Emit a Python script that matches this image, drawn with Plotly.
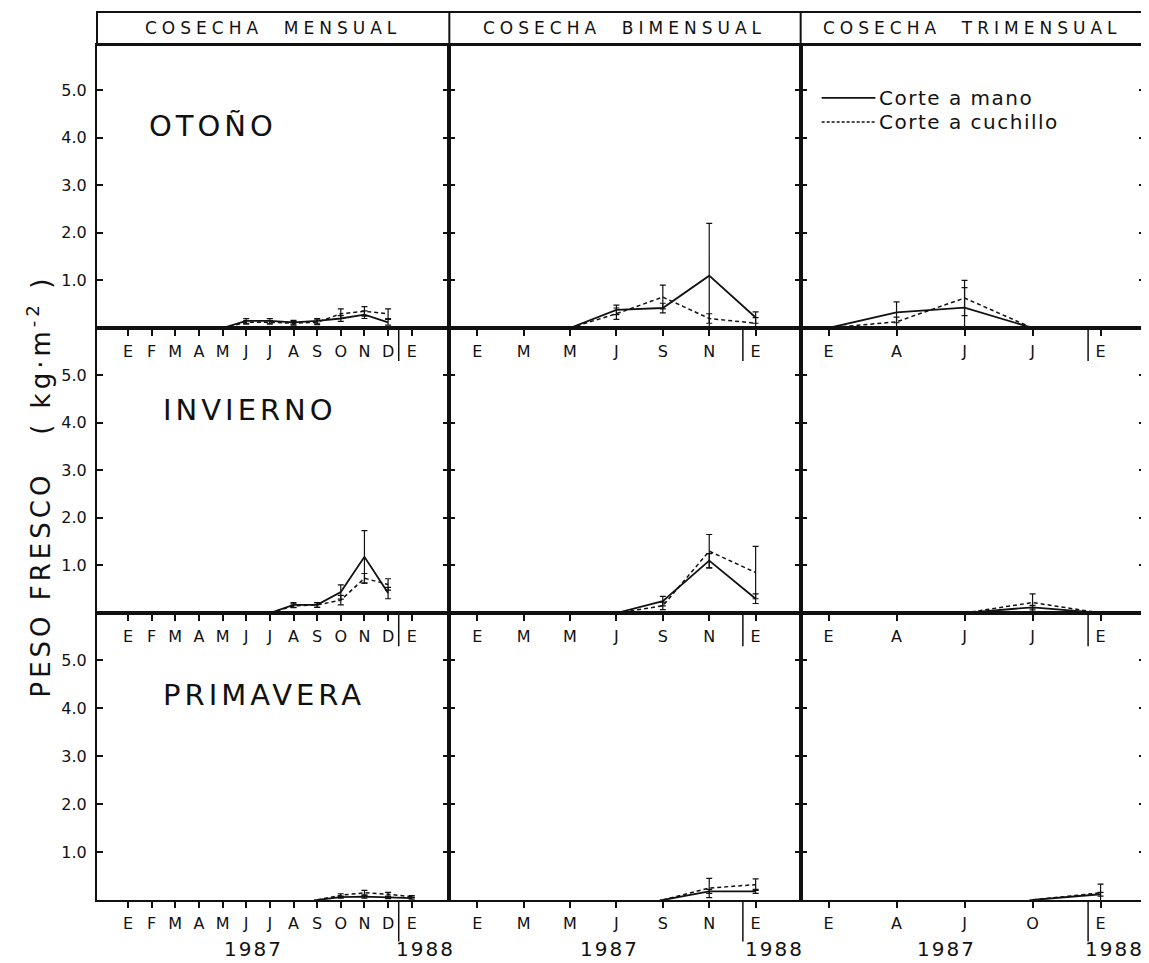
import plotly.graph_objects as go
from plotly.subplots import make_subplots

# ---------------- tick labels / categories ----------------
MENS_TICKS = [0, 1, 2, 3, 4, 5, 6, 7, 8, 9, 10, 11, 12]
MENS_LABELS = ["E", "F", "M", "A", "M", "J", "J", "A", "S", "O", "N", "D", "E"]
BIM_TICKS = [0, 2, 4, 6, 8, 10, 12]
BIM_LABELS = ["E", "M", "M", "J", "S", "N", "E"]
TRIM_TICKS = [0, 3, 6, 9, 12]
TRIM_LABELS_TOP = ["E", "A", "J", "J", "E"]
TRIM_LABELS_BOTTOM = ["E", "A", "J", "O", "E"]
Y_TICKS = [1, 2, 3, 4, 5]
Y_LABELS = ["1.0", "2.0", "3.0", "4.0", "5.0"]
SEASONS = ["OTOÑO", "INVIERNO", "PRIMAVERA"]
HEADERS = ["COSECHA MENSUAL", "COSECHA BIMENSUAL", "COSECHA TRIMENSUAL"]
SERIES_NAMES = ["Corte a mano", "Corte a cuchillo"]
YEARS = ["1987", "1988"]

# ---------------- data (kg m-2), x = month index from Jan 1987 ----------------
# Cosecha mensual
oto_mens_x = [4, 5, 6, 7, 8, 9, 10, 11]
oto_mens_mano = [0, 0.15, 0.15, 0.12, 0.15, 0.20, 0.28, 0.12]
oto_mens_mano_err = [0, 0.05, 0.05, 0.04, 0.05, 0.06, 0.08, 0.06]
oto_mens_cuch = [0, 0.12, 0.12, 0.10, 0.12, 0.30, 0.35, 0.30]
oto_mens_cuch_err = [0, 0.04, 0.04, 0.04, 0.05, 0.10, 0.10, 0.10]

inv_mens_x = [6, 7, 8, 9, 10, 11]
inv_mens_mano = [0, 0.17, 0.17, 0.44, 1.18, 0.42]
inv_mens_mano_err = [0, 0.05, 0.05, 0.15, 0.55, 0.12]
inv_mens_cuch = [0, 0.15, 0.17, 0.27, 0.73, 0.60]
inv_mens_cuch_err = [0, 0.04, 0.05, 0.10, 0.10, 0.12]

pri_mens_x = [8, 9, 10, 11, 12]
pri_mens_mano = [0, 0.06, 0.07, 0.05, 0.04]
pri_mens_mano_err = [0, 0.02, 0.03, 0.02, 0.02]
pri_mens_cuch = [0, 0.10, 0.15, 0.12, 0.07]
pri_mens_cuch_err = [0, 0.03, 0.05, 0.04, 0.02]

# Cosecha bimensual
oto_bim_x = [4, 6, 8, 10, 12]
oto_bim_mano = [0, 0.38, 0.42, 1.10, 0.22]
oto_bim_mano_err = [0, 0.10, 0.10, 1.10, 0.12]
oto_bim_cuch = [0, 0.30, 0.65, 0.20, 0.10]
oto_bim_cuch_err = [0, 0.12, 0.25, 0.10, 0.12]

inv_bim_x = [6, 8, 10, 12]
inv_bim_mano = [0, 0.25, 1.10, 0.30]
inv_bim_mano_err = [0, 0.10, 0.15, 0.10]
inv_bim_cuch = [0, 0.15, 1.30, 0.85]
inv_bim_cuch_err = [0, 0.08, 0.35, 0.55]

pri_bim_x = [8, 10, 12]
pri_bim_mano = [0, 0.18, 0.18]
pri_bim_mano_err = [0, 0.04, 0.04]
pri_bim_cuch = [0, 0.25, 0.32]
pri_bim_cuch_err = [0, 0.20, 0.12]

# Cosecha trimensual
oto_trim_x = [0, 3, 6, 9]
oto_trim_mano = [0, 0.33, 0.43, 0]
oto_trim_mano_err = [0, 0.22, 0.42, 0]
oto_trim_cuch = [0, 0.13, 0.63, 0]
oto_trim_cuch_err = [0, 0.10, 0.37, 0]

inv_trim_x = [6, 9, 12]
inv_trim_mano = [0, 0.12, 0]
inv_trim_mano_err = [0, 0.04, 0]
inv_trim_cuch = [0, 0.22, 0]
inv_trim_cuch_err = [0, 0.18, 0]

pri_trim_x = [9, 12]
pri_trim_mano = [0, 0.12]
pri_trim_mano_err = [0, 0.04]
pri_trim_cuch = [0, 0.15]
pri_trim_cuch_err = [0, 0.18]

panels = {
    (1, 1): (oto_mens_x, oto_mens_mano, oto_mens_mano_err, oto_mens_cuch, oto_mens_cuch_err),
    (1, 2): (oto_bim_x, oto_bim_mano, oto_bim_mano_err, oto_bim_cuch, oto_bim_cuch_err),
    (1, 3): (oto_trim_x, oto_trim_mano, oto_trim_mano_err, oto_trim_cuch, oto_trim_cuch_err),
    (2, 1): (inv_mens_x, inv_mens_mano, inv_mens_mano_err, inv_mens_cuch, inv_mens_cuch_err),
    (2, 2): (inv_bim_x, inv_bim_mano, inv_bim_mano_err, inv_bim_cuch, inv_bim_cuch_err),
    (2, 3): (inv_trim_x, inv_trim_mano, inv_trim_mano_err, inv_trim_cuch, inv_trim_cuch_err),
    (3, 1): (pri_mens_x, pri_mens_mano, pri_mens_mano_err, pri_mens_cuch, pri_mens_cuch_err),
    (3, 2): (pri_bim_x, pri_bim_mano, pri_bim_mano_err, pri_bim_cuch, pri_bim_cuch_err),
    (3, 3): (pri_trim_x, pri_trim_mano, pri_trim_mano_err, pri_trim_cuch, pri_trim_cuch_err),
}

FONT = "DejaVu Sans"
INK = "#111111"


def sfx(n):
    return "" if n == 1 else str(n)


fig = make_subplots(rows=3, cols=3, horizontal_spacing=0, vertical_spacing=0,
                    column_widths=[353, 352, 345], row_heights=[283, 285, 287])

for (r, c), (x, mano, mano_e, cuch, cuch_e) in panels.items():
    fig.add_trace(go.Scatter(
        x=x, y=mano, mode="lines", name=SERIES_NAMES[0], showlegend=False,
        line=dict(color=INK, width=1.8),
        error_y=dict(type="data", array=mano_e, visible=True, color=INK, thickness=1.2, width=3),
    ), row=r, col=c)
    fig.add_trace(go.Scatter(
        x=x, y=cuch, mode="lines", name=SERIES_NAMES[1], showlegend=False,
        line=dict(color=INK, width=1.5, dash="4px,3px"),
        error_y=dict(type="data", array=cuch_e, visible=True, color=INK, thickness=1.2, width=3),
    ), row=r, col=c)

X_RANGES = {1: [-1.31, 13.59], 2: [-1.20, 13.94], 3: [-1.23, 13.96]}
Y_RANGES = {1: [0, 5.95], 2: [0, 5.99], 3: [0, 5.98]}

for r in (1, 2, 3):
    for c in (1, 2, 3):
        if c == 1:
            tv, tt = MENS_TICKS, MENS_LABELS
        elif c == 2:
            tv, tt = BIM_TICKS, BIM_LABELS
        else:
            tv, tt = TRIM_TICKS, (TRIM_LABELS_BOTTOM if r == 3 else TRIM_LABELS_TOP)
        fig.update_xaxes(row=r, col=c, range=X_RANGES[c], tickmode="array",
                         tickvals=tv, ticktext=tt, ticks="outside", ticklen=6,
                         tickwidth=1.5, tickcolor=INK, showline=True, linewidth=2,
                         linecolor=INK, mirror=True, showgrid=False, zeroline=False,
                         tickfont=dict(family=FONT, size=16, color=INK),
                         ticklabelstandoff=2)
        fig.update_yaxes(row=r, col=c, range=Y_RANGES[r], tickmode="array",
                         tickvals=Y_TICKS, ticktext=Y_LABELS, ticks="inside", ticklen=6,
                         tickwidth=1.5, tickcolor=INK, showline=True, linewidth=2,
                         linecolor=INK, mirror="ticks", showgrid=False, zeroline=False,
                         showticklabels=(c == 1), ticklabelstandoff=5,
                         tickfont=dict(family=FONT, size=16, color=INK))

shapes = []
annotations = []

# year boundary marks
for r in (1, 2, 3):
    for c in (1, 2, 3):
        n = (r - 1) * 3 + c
        shapes.append(dict(type="line", xref=f"x{sfx(n)}", yref=f"y{sfx(n)} domain",
                           x0=11.45, x1=11.45, y0=0, y1=(-0.145 if r == 3 else -0.117),
                           line=dict(color=INK, width=1.5)))

# header strip
STRIP_TOP = 1.0386
shapes.append(dict(type="rect", xref="paper", yref="paper", x0=0, x1=1, y0=1, y1=STRIP_TOP,
                   line=dict(color=INK, width=2)))
for c in (2, 3):
    shapes.append(dict(type="line", xref=f"x{sfx(c)} domain", yref="paper", x0=0, x1=0,
                       y0=1, y1=STRIP_TOP, line=dict(color=INK, width=2)))
for c, h in enumerate(HEADERS, start=1):
    annotations.append(dict(xref=f"x{sfx(c)} domain", yref="paper", x=0.5, y=1.0193,
                            text=f'<span style="letter-spacing:5px">{h.replace(" ", "&nbsp;&nbsp;")}</span>',
                            showarrow=False, font=dict(family=FONT, size=17, color=INK),
                            xanchor="center", yanchor="middle"))

# season labels
SEASON_POS = [(0.329, 0.714), (0.433, 0.712), (0.473, 0.714)]
for i, s in enumerate(SEASONS):
    n = i * 3 + 1
    annotations.append(dict(xref=f"x{sfx(n)} domain", yref=f"y{sfx(n)} domain",
                            x=SEASON_POS[i][0], y=SEASON_POS[i][1],
                            text=f'<span style="letter-spacing:4px">{s}</span>',
                            showarrow=False, font=dict(family=FONT, size=29, color=INK),
                            xanchor="center", yanchor="middle"))

# legend (drawn in the trimensual / otoño panel)
LEG_Y = [0.813, 0.728]
for i, nm in enumerate(SERIES_NAMES):
    shapes.append(dict(type="line", xref="x3 domain", yref="y3 domain",
                       x0=0.061, x1=0.217, y0=LEG_Y[i], y1=LEG_Y[i],
                       line=dict(color=INK, width=1.6 if i == 0 else 1.4,
                                 dash="solid" if i == 0 else "3px,2px")))
    annotations.append(dict(xref="x3 domain", yref="y3 domain", x=0.222, y=LEG_Y[i],
                            text=f'<span style="letter-spacing:1.5px">{nm}</span>',
                            showarrow=False, font=dict(family=FONT, size=20, color=INK),
                            xanchor="left", yanchor="middle"))

# years under the bottom axes
YEAR_X = {7: (5.3, 12.6), 8: (5.7, 12.8), 9: (5.2, 12.6)}
for n, (a, b) in YEAR_X.items():
    for xv, yr in zip((a, b), YEARS):
        annotations.append(dict(xref=f"x{sfx(n)}", yref="paper", x=xv, y=-0.057,
                                text=f'<span style="letter-spacing:2px">{yr}</span>',
                                showarrow=False, font=dict(family=FONT, size=20, color=INK),
                                xanchor="center", yanchor="middle"))

# y-axis title
annotations.append(dict(xref="paper", yref="paper", x=-0.055, y=0.484,
                        text='<span style="letter-spacing:4px">PESO&nbsp;FRESCO&nbsp;&nbsp;&nbsp;(&nbsp;kg·m<sup>-2</sup>&nbsp;)</span>',
                        textangle=-90, showarrow=False,
                        font=dict(family=FONT, size=26, color=INK),
                        xanchor="center", yanchor="middle"))

# the page adds an 8px body margin, so the figure is 8px smaller than the window
fig.update_layout(width=1141, height=955,
                  margin=dict(l=89, r=2, t=37, b=63),
                  paper_bgcolor="white", plot_bgcolor="white",
                  showlegend=False, shapes=shapes, annotations=annotations,
                  font=dict(family=FONT, color=INK))

fig.write_html("out.html")
